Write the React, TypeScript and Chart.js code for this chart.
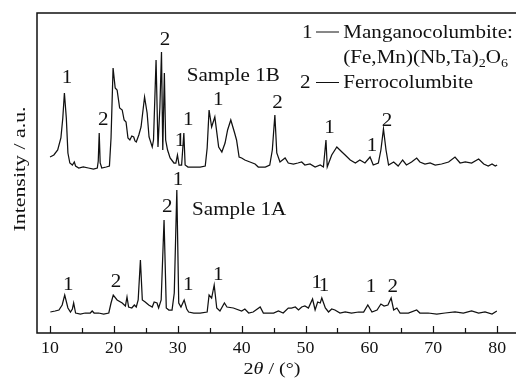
import React, { useEffect, useRef } from "react";
import { Chart, registerables } from "chart.js";

Chart.register(...registerables);

// ---- Data (2θ in degrees, intensity in arbitrary units) ----
const angle1B = [10.0, 10.6, 11.2, 11.7, 12.0, 12.25, 12.55, 12.8, 13.1, 13.5, 13.8, 14.0, 14.5, 15.2, 16.0, 16.8, 17.4, 17.55, 17.7, 17.85, 18.1, 18.8, 19.3, 19.55, 19.87, 20.2, 20.5, 20.9, 21.3, 21.6, 21.9, 22.2, 22.5, 22.8, 23.1, 23.3, 23.5, 23.9, 24.25, 24.8, 25.2, 25.5, 26.0, 26.2, 26.6, 26.9, 27.2, 27.45, 27.65, 27.9, 28.1, 28.4, 28.8, 29.4, 29.7, 29.95, 30.2, 30.6, 30.95, 31.15, 31.6, 32.5, 33.5, 34.3, 34.6, 34.9, 35.3, 35.8, 36.4, 36.9, 37.4, 37.8, 38.3, 38.9, 39.2, 39.6, 40.0, 40.5, 41.3, 42.1, 42.6, 43.7, 44.4, 44.8, 45.2, 45.5, 46.0, 46.8, 47.3, 48.1, 48.8, 49.4, 49.9, 50.7, 51.5, 52.3, 52.8, 53.2, 53.4, 54.1, 54.9, 55.7, 56.2, 57.0, 57.8, 58.5, 59.3, 60.1, 60.6, 61.4, 61.8, 62.2, 62.6, 63.0, 63.8, 64.5, 65.2, 65.8, 66.6, 67.4, 67.9, 68.7, 69.5, 70.3, 71.3, 72.4, 73.4, 74.2, 75.0, 76.0, 77.1, 77.9, 78.6, 79.2, 79.7, 80.0];
const intensity1B = [176, 178, 183, 195, 215, 240, 215, 180, 170, 168, 171, 167, 165, 166, 165, 164, 165, 172, 200, 170, 165, 166, 167, 195, 265, 245, 243, 225, 223, 213, 211, 195, 193, 197, 196, 192, 191, 198, 206, 236, 220, 196, 186, 193, 273, 186, 226, 281, 183, 260, 193, 183, 175, 170, 170, 178, 168, 168, 200, 168, 166, 166, 166, 167, 185, 223, 206, 216, 186, 181, 190, 203, 213, 200, 193, 176, 175, 173, 171, 169, 166, 166, 168, 183, 218, 180, 171, 175, 170, 169, 170, 171, 168, 169, 166, 168, 166, 193, 166, 178, 186, 181, 178, 173, 170, 173, 170, 176, 168, 170, 183, 204, 183, 168, 171, 167, 173, 168, 171, 175, 171, 169, 170, 168, 169, 171, 176, 170, 171, 170, 174, 169, 167, 169, 167, 168];

const angle1A = [10.05, 10.8, 11.4, 11.9, 12.3, 12.8, 13.2, 13.5, 13.7, 14.0, 14.75, 15.5, 16.3, 16.6, 16.9, 17.6, 18.4, 19.2, 19.55, 19.9, 20.5, 21.3, 21.8, 22.05, 22.3, 22.8, 23.2, 23.5, 23.8, 24.15, 24.45, 24.9, 25.45, 26.0, 26.3, 26.75, 27.0, 27.4, 27.85, 28.2, 28.6, 29.1, 29.45, 29.85, 30.15, 30.5, 31.0, 31.4, 31.7, 32.5, 33.5, 34.6, 34.9, 35.3, 35.7, 36.1, 36.6, 37.3, 37.7, 38.7, 40.0, 40.5, 41.1, 41.8, 42.9, 43.4, 44.2, 45.0, 45.75, 46.5, 47.3, 47.8, 48.4, 48.9, 49.4, 49.9, 50.45, 51.1, 51.5, 51.9, 52.3, 52.55, 53.1, 53.6, 54.1, 54.6, 55.4, 56.2, 57.2, 58.3, 59.1, 59.75, 60.4, 61.2, 61.8, 62.3, 62.9, 63.4, 63.8, 64.3, 64.8, 66.1, 67.4, 67.9, 69.2, 70.55, 71.85, 73.4, 74.7, 76.0, 77.1, 78.1, 79.2, 79.95];
const intensity1A = [21, 22, 23, 28, 38, 25, 21, 24, 30, 20, 19, 20, 20, 22, 20, 20, 19, 20, 30, 38, 33, 30, 27, 36, 26, 25, 28, 26, 33, 73, 33, 31, 28, 26, 31, 30, 25, 33, 113, 25, 23, 23, 40, 143, 30, 26, 33, 24, 21, 20, 20, 21, 38, 35, 48, 25, 22, 30, 26, 25, 22, 24, 20, 21, 26, 20, 20, 20, 22, 20, 25, 25, 26, 23, 26, 27, 25, 34, 23, 31, 30, 35, 25, 21, 24, 23, 20, 21, 20, 21, 21, 28, 21, 23, 29, 27, 28, 35, 23, 25, 20, 20, 23, 20, 20, 19, 20, 21, 20, 22, 20, 21, 19, 22];

const majorTicks = [10, 20, 30, 40, 50, 60, 70, 80];
const minorTicks = [15, 25, 35, 45, 55, 65, 75];

// Phase markers (1 = manganocolumbite, 2 = ferrocolumbite)
const markText1B = ["1", "2", "2", "1", "1", "1", "2", "1", "1", "2"];
const markAngle1B = [12.66, 18.35, 28.0, 30.36, 31.66, 36.35, 45.6, 53.74, 60.4, 62.75];
const markHeight1B = [255, 213, 293, 192, 213, 233, 230, 205, 187, 212];

const markText1A = ["1", "2", "2", "1", "1", "1", "1", "1", "1", "2"];
const markAngle1A = [12.87, 20.33, 28.37, 30.04, 31.66, 36.35, 51.76, 52.9, 60.27, 63.66];
const markHeight1A = [48, 51, 126, 153, 48, 58, 50, 47, 46, 46];

const sampleNames = ["Sample 1B", "Sample 1A"];
const sampleAngles = [31.4, 32.24];
const sampleHeights = [257, 123];

const SERIF = '"Liberation Serif", "Times New Roman", serif';

function drawText(
  ctx: CanvasRenderingContext2D,
  s: string,
  x: number,
  y: number,
  size: number,
  align: CanvasTextAlign = "left",
  baseline: CanvasTextBaseline = "alphabetic",
  sx = 1,
  italic = false
): number {
  ctx.save();
  ctx.font = `${italic ? "italic " : ""}${size}px ${SERIF}`;
  const w = ctx.measureText(s).width * sx;
  ctx.translate(x, y);
  ctx.scale(sx, 1);
  ctx.textAlign = align;
  ctx.textBaseline = baseline;
  ctx.fillStyle = "#111";
  ctx.fillText(s, 0, 0);
  ctx.restore();
  return w;
}

function measure(ctx: CanvasRenderingContext2D, s: string, size: number, italic = false, sx = 1) {
  ctx.save();
  ctx.font = `${italic ? "italic " : ""}${size}px ${SERIF}`;
  const w = ctx.measureText(s).width * sx;
  ctx.restore();
  return w;
}

const decorPlugin = {
  id: "decor",
  afterDatasetsDraw(chart: any) {
    const ctx: CanvasRenderingContext2D = chart.ctx;
    const { left, top, right, bottom } = chart.chartArea;
    const xs = chart.scales.x;
    const ys = chart.scales.y;
    const SX = 1.17;

    // frame
    ctx.save();
    ctx.strokeStyle = "#111";
    ctx.lineWidth = 1.5;
    ctx.beginPath();
    ctx.moveTo(right, top);
    ctx.lineTo(left, top);
    ctx.lineTo(left, bottom);
    ctx.lineTo(right, bottom);
    ctx.stroke();

    // inward ticks
    ctx.lineWidth = 1.2;
    ctx.beginPath();
    majorTicks.forEach((v) => {
      const px = Math.round(xs.getPixelForValue(v)) + 0.5;
      ctx.moveTo(px, bottom);
      ctx.lineTo(px, bottom - 7);
    });
    minorTicks.forEach((v) => {
      const px = Math.round(xs.getPixelForValue(v)) + 0.5;
      ctx.moveTo(px, bottom);
      ctx.lineTo(px, bottom - 5);
    });
    ctx.stroke();
    ctx.restore();

    // tick labels
    majorTicks.forEach((v) => {
      drawText(ctx, String(v), xs.getPixelForValue(v), bottom + 15, 17.5, "center", "middle", 1.02);
    });

    // x title: 2θ / (°)
    {
      const size = 17.5;
      const sx = 1.15;
      const parts: [string, boolean][] = [["2", false], ["θ", true], [" / (°)", false]];
      const total = parts.reduce((a, [s, it]) => a + measure(ctx, s, size, it, sx), 0);
      let x = 272 - total / 2;
      parts.forEach(([s, it]) => {
        x += drawText(ctx, s, x, bottom + 36, size, "left", "middle", sx, it);
      });
    }

    // y title (rotated, stretched along its length)
    ctx.save();
    ctx.translate(20.5, 169);
    ctx.rotate(-Math.PI / 2);
    drawText(ctx, "Intensity / a.u.", 0, 0, 17.5, "center", "middle", 1.25);
    ctx.restore();

    // phase markers
    markText1B.forEach((t, i) => {
      drawText(ctx, t, xs.getPixelForValue(markAngle1B[i]), ys.getPixelForValue(markHeight1B[i]), 18, "center", "middle", SX);
    });
    markText1A.forEach((t, i) => {
      drawText(ctx, t, xs.getPixelForValue(markAngle1A[i]), ys.getPixelForValue(markHeight1A[i]), 18, "center", "middle", SX);
    });

    // sample names
    sampleNames.forEach((t, i) => {
      drawText(ctx, t, xs.getPixelForValue(sampleAngles[i]), ys.getPixelForValue(sampleHeights[i]), 18, "left", "middle", SX);
    });

    // phase legend (top right)
    const lx = right - 214;
    const tx = right - 172.7;
    const b1 = top + 24.5;
    const b2 = top + 50;
    const b3 = top + 75;
    ctx.save();
    ctx.strokeStyle = "#111";
    ctx.lineWidth = 1;
    drawText(ctx, "1", lx, b1, 18, "left", "alphabetic", SX);
    ctx.beginPath();
    ctx.moveTo(lx + 14, b1 - 5.5);
    ctx.lineTo(lx + 37, b1 - 5.5);
    ctx.stroke();
    drawText(ctx, "Manganocolumbite:", tx, b1, 18, "left", "alphabetic", SX);

    let x2 = tx;
    x2 += drawText(ctx, "(Fe,Mn)(Nb,Ta)", x2, b2, 18, "left", "alphabetic", SX);
    x2 += drawText(ctx, "2", x2, b2 + 4, 12, "left", "alphabetic", SX);
    x2 += drawText(ctx, "O", x2, b2, 18, "left", "alphabetic", SX);
    drawText(ctx, "6", x2, b2 + 4, 12, "left", "alphabetic", SX);

    drawText(ctx, "2", lx - 2, b3, 18, "left", "alphabetic", SX);
    ctx.beginPath();
    ctx.moveTo(lx + 14, b3 - 5.5);
    ctx.lineTo(lx + 37, b3 - 5.5);
    ctx.stroke();
    drawText(ctx, "Ferrocolumbite", tx, b3, 18, "left", "alphabetic", SX);
    ctx.restore();
  },
};

export default function App() {
  const canvasRef = useRef<HTMLCanvasElement | null>(null);

  useEffect(() => {
    const canvas = canvasRef.current;
    if (!canvas) return;
    const chart = new Chart(canvas, {
      type: "line",
      data: {
        datasets: [
          {
            label: "Sample 1B",
            data: angle1B.map((a, i) => ({ x: a, y: intensity1B[i] })),
            borderColor: "#111",
            borderWidth: 1.25,
            pointRadius: 0,
            tension: 0,
            fill: false,
          },
          {
            label: "Sample 1A",
            data: angle1A.map((a, i) => ({ x: a, y: intensity1A[i] })),
            borderColor: "#111",
            borderWidth: 1.25,
            pointRadius: 0,
            tension: 0,
            fill: false,
          },
        ],
      },
      options: {
        responsive: false,
        animation: false,
        events: [],
        layout: { padding: { left: 37, top: 13, right: 0, bottom: 48 } },
        scales: {
          x: { type: "linear", min: 7.96, max: 82.95, display: false },
          y: { type: "linear", min: 0, max: 320, display: false },
        },
        plugins: { legend: { display: false }, tooltip: { enabled: false } },
      },
      plugins: [decorPlugin],
    });
    return () => chart.destroy();
  }, []);

  return (
    <div style={{ position: "fixed", left: 0, top: 0, width: 516, height: 381, background: "#fff" }}>
      <canvas ref={canvasRef} width={516} height={381} style={{ display: "block" }} />
    </div>
  );
}
